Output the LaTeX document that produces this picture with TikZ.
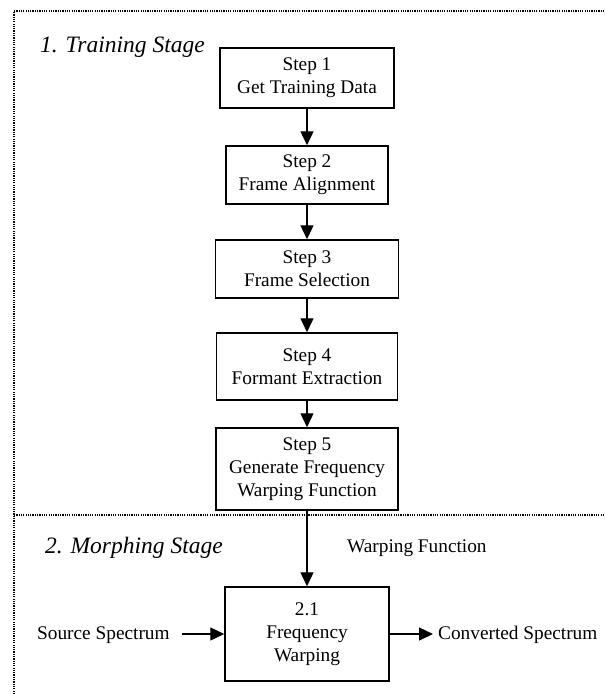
\documentclass[tikz,border=0pt]{standalone}
\usepackage{fontspec}
\setmainfont{Liberation Serif}
\usetikzlibrary{arrows.meta}

\tikzset{
  stepbox/.style={draw, line width=1.5pt, align=center, inner sep=0pt,
    font=\fontsize{19.3}{23}\selectfont},
  plain/.style={inner sep=0pt, font=\fontsize{19.3}{23}\selectfont},
  stagelabel/.style={inner sep=0pt, anchor=west, font=\fontsize{23.5}{28}\selectfont\itshape},
  arr/.style={line width=1.4pt, -{Triangle[length=14pt,width=13pt]}},
  frame/.style={line width=1.2pt, dash pattern=on 1.2pt off 1.1pt}
}

\begin{document}
\begin{tikzpicture}[x=1pt,y=-1pt]
  \useasboundingbox (0,0) rectangle (605,694);

  % dotted stage frame
  \draw[frame] (14,694) -- (14,11) -- (605,11);
  \draw[frame] (14,515) -- (605,515);

  % stage titles
  \node[stagelabel] (train) at (40,47) {1. Training Stage};
  \node[stagelabel] (morph) at (45,548) {2. Morphing Stage};

  % training steps
  \node[stepbox, minimum width=174pt, minimum height=60pt] (s1) at (307,78)
    {Step 1\\Get Training Data};
  \node[stepbox, minimum width=162pt, minimum height=58pt] (s2) at (307,175)
    {Step 2\\Frame Alignment};
  \node[stepbox, minimum width=183pt, minimum height=58pt] (s3) at (307,269)
    {Step 3\\Frame Selection};
  \node[stepbox, minimum width=181pt, minimum height=67pt] (s4) at (307,366.5)
    {Step 4\\Formant Extraction};
  \node[stepbox, minimum width=182pt, minimum height=82pt] (s5) at (307,469)
    {Step 5\\Generate Frequency\\Warping Function};

  % morphing step
  \node[stepbox, minimum width=164pt, minimum height=94pt] (fw) at (307,634)
    {2.1\\Frequency\\Warping};

  % side labels
  \node[plain, anchor=west] (wf) at (347,548) {Warping Function};
  \node[plain, anchor=west] (src) at (37,635) {Source Spectrum};
  \node[plain, anchor=west] (conv) at (438,635) {Converted Spectrum};

  % connectors
  \draw[arr] (s1) -- (s2);
  \draw[arr] (s2) -- (s3);
  \draw[arr] (s3) -- (s4);
  \draw[arr] (s4) -- (s5);
  \draw[arr] (s5) -- (fw);
  \draw[arr] ([xshift=12pt]src.east |- fw.west) -- (fw.west);
  \draw[arr] (fw.east) -- ([xshift=-5pt]conv.west |- fw.east);
\end{tikzpicture}
\end{document}
